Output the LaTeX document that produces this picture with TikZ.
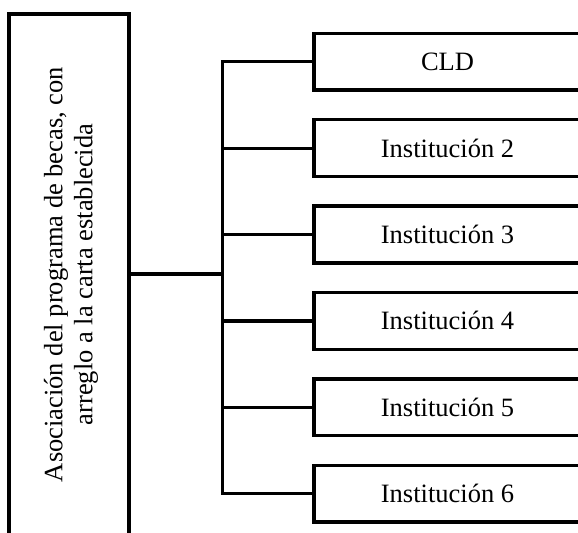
\documentclass[tikz,border=0pt]{standalone}
\usepackage{fontspec}
\setmainfont{Liberation Serif}
\begin{document}
\begin{tikzpicture}[x=0.5pt,y=-0.5pt,
  boxline/.style={draw=black,line width=1.7pt},
  conn/.style={draw=black,line width=1.6pt},
  instbox/.style={boxline,rectangle,minimum width=133.5pt,minimum height=28.35pt,inner sep=0pt,
    font=\fontsize{13.25}{15}\selectfont},
  bigtext/.style={rotate=90,inner sep=0pt,align=center,font=\fontsize{13.25}{15}\selectfont}]
\useasboundingbox (0,0) rectangle (578,532);
\clip (0,0) rectangle (578,532);
\fill[white] (0,0) rectangle (578,532);
% left box
\node[boxline,rectangle,minimum width=60pt,minimum height=261pt,inner sep=0pt] (L) at (69,275) {};
\node[bigtext] (Ltext) at (70.9,274.5) {Asociación del programa de becas, con\\arreglo a la carta establecida};
% right boxes
\node[instbox] (B1) at (447.5,61.7) {CLD};
\node[instbox] (B2) at (447.5,148.1) {Institución 2};
\node[instbox] (B3) at (447.5,234.5) {Institución 3};
\node[instbox] (B4) at (447.5,320.9) {Institución 4};
\node[instbox] (B5) at (447.5,407.3) {Institución 5};
\node[instbox] (B6) at (447.5,493.7) {Institución 6};
% connectors
\coordinate (bus) at (222.5,274);
\draw[conn] (L.east |- bus) -- (bus);
\draw[conn] (B1.west) -- (bus |- B1.west) -- (bus |- B6.west) -- (B6.west);
\foreach \i in {2,3,4,5}{
  \draw[conn] (bus |- B\i.west) -- (B\i.west);
}
\end{tikzpicture}
\end{document}
